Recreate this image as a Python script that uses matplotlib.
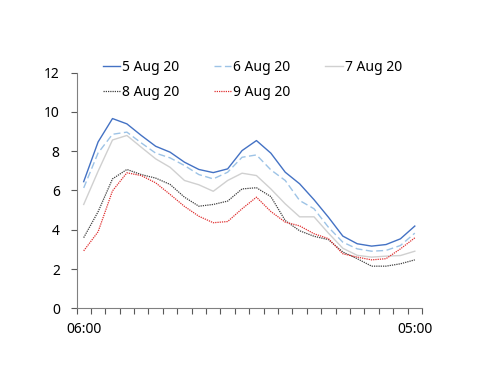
# plot.py
# Hourly profile for five days in August, one line per day.

import matplotlib
matplotlib.use("Agg")
import matplotlib.pyplot as plt
from matplotlib.ticker import FixedLocator

hours = ["%02d:00" % ((6 + i) % 24) for i in range(24)]
aug5 = [6.45, 8.47, 9.66, 9.39, 8.80, 8.25, 7.95, 7.44, 7.07, 6.91, 7.10, 8.03,
        8.54, 7.90, 6.93, 6.34, 5.53, 4.64, 3.68, 3.29, 3.17, 3.25, 3.54, 4.19]
aug6 = [6.13, 7.91, 8.86, 8.97, 8.42, 7.90, 7.66, 7.27, 6.81, 6.59, 6.93, 7.69,
        7.81, 7.05, 6.51, 5.49, 5.07, 4.13, 3.37, 3.03, 2.91, 2.95, 3.20, 3.83]
aug7 = [5.29, 6.98, 8.57, 8.80, 8.20, 7.61, 7.18, 6.51, 6.29, 5.96, 6.51, 6.88,
        6.76, 6.08, 5.32, 4.66, 4.66, 3.83, 3.06, 2.70, 2.61, 2.66, 2.69, 2.91]
aug8 = [3.60, 4.92, 6.59, 7.07, 6.81, 6.63, 6.31, 5.66, 5.20, 5.29, 5.46, 6.08,
        6.14, 5.69, 4.47, 3.95, 3.67, 3.50, 2.87, 2.53, 2.15, 2.15, 2.27, 2.47]
aug9 = [2.93, 3.90, 5.98, 6.90, 6.76, 6.39, 5.80, 5.19, 4.69, 4.36, 4.42, 5.07,
        5.66, 4.93, 4.39, 4.20, 3.80, 3.55, 2.78, 2.61, 2.47, 2.53, 3.03, 3.59]
labels = ["5 Aug 20", "6 Aug 20", "7 Aug 20", "8 Aug 20", "9 Aug 20"]

plt.rcParams['font.family'] = ['Noto Sans', 'DejaVu Sans']
plt.rcParams['font.size'] = 10

fig = plt.figure(figsize=(5.0, 3.86), dpi=100)
ax = fig.add_axes([0.153, 0.201, 0.691, 0.611])

x = list(range(len(hours)))
l5, = ax.plot(x, aug5, color='#4472C4', lw=1.0, label=labels[0])
l6, = ax.plot(x, aug6, color='#9DC3E6', lw=1.0, ls=(0, (5, 2.5)), label=labels[1])
l7, = ax.plot(x, aug7, color='#D0D0D0', lw=1.0, label=labels[2])
l8, = ax.plot(x, aug8, color='#404040', lw=0.9, ls=(0, (1, 0.8)), label=labels[3])
l9, = ax.plot(x, aug9, color='#E03030', lw=0.9, ls=(0, (1, 0.8)), label=labels[4])

ax.set_xlim(-0.5, len(hours) - 0.5)
ax.set_ylim(0, 12)
ax.set_yticks(range(0, 13, 2))

ax.set_xticks([0, len(hours) - 1])
ax.set_xticklabels([hours[0], hours[-1]])
ax.tick_params(axis='x', which='major', length=0, pad=10)
ax.xaxis.set_minor_locator(FixedLocator([i - 0.5 for i in range(len(hours) + 1)]))
ax.tick_params(axis='x', which='minor', length=4, width=0.8, color='#595959')
ax.tick_params(axis='y', length=4, width=0.8, color='#595959', pad=8)

for side in ['top', 'right']:
    ax.spines[side].set_visible(False)
for side in ['left', 'bottom']:
    ax.spines[side].set_color('#808080')
    ax.spines[side].set_linewidth(0.8)

# legend fills column by column, so order handles to read row by row
order = [l5, l8, l6, l9, l7]
fig.legend(handles=order, labels=[h.get_label() for h in order],
           loc='upper left', bbox_to_anchor=(0.205, 0.845), ncol=3, frameon=False,
           handlelength=1.25, handletextpad=0.15, columnspacing=2.5,
           labelspacing=0.75, borderpad=0, borderaxespad=0)

fig.savefig("out.png", dpi=100)
